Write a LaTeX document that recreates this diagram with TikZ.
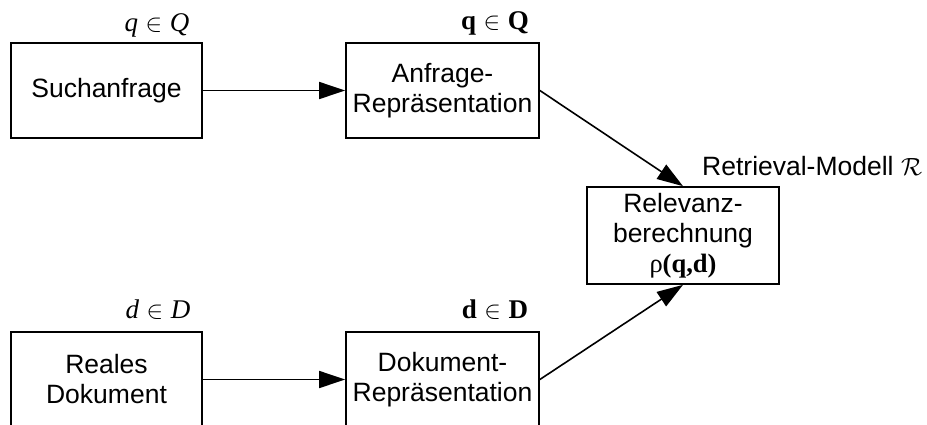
\documentclass[tikz,border=0pt]{standalone}
\usepackage{fontspec}
\setmainfont{Liberation Sans}
\newfontfamily\serif{Liberation Serif}
\usetikzlibrary{arrows.meta}
\tikzset{
  box/.style={draw, line width=1.7pt, rectangle, align=center, inner sep=0pt,
    font=\fontsize{26.5}{30}\selectfont},
  lab/.style={inner sep=0pt, font=\fontsize{27}{30}\selectfont},
  arr/.style={line width=1.6pt, -{Triangle[length=26pt,width=17pt]}}
}
\begin{document}
\begin{tikzpicture}[x=1pt,y=-1pt]
\useasboundingbox (0,0) rectangle (927,424);
\clip (0,0) rectangle (927,424);
\node[box, minimum width=191pt, minimum height=95pt] (s) at (106.5,90.5) {Suchanfrage};
\node[box, minimum width=193pt, minimum height=95pt] (a) at (442.5,90.5) {Anfrage-\\Repräsentation};
\node[box, minimum width=192pt, minimum height=97pt] (r) at (683,235.5) {Relevanz-\\berechnung\\{\serif ρ\textbf{(q,d)}}};
\node[box, minimum width=191pt, minimum height=95pt] (re) at (106.5,379.5) {Reales\\Dokument};
\node[box, minimum width=193pt, minimum height=95pt] (d) at (442.5,379.5) {Dokument-\\Repräsentation};
\node[lab] (lq) at (157,25) {{\serif\itshape q} $\in$ {\serif\itshape Q}};
\node[lab] (lqb) at (495,23) {{\serif\bfseries q} $\in$ {\serif\bfseries Q}};
\node[lab] (ld) at (158,310) {{\serif\itshape d} $\in$ {\serif\itshape D}};
\node[lab] (ldb) at (495,310) {{\serif\bfseries d} $\in$ {\serif\bfseries D}};
\node[inner sep=0pt, anchor=west, font=\fontsize{26.5}{30}\selectfont] (rm) at (702,166) {Retrieval-Modell $\mathcal{R}$};
\draw[arr] (s.east) -- (a.west);
\draw[arr] (re.east) -- (d.west);
\draw[arr] (a.east) -- (r.north);
\draw[arr] (d.east) -- (r.south);
\end{tikzpicture}
\end{document}
